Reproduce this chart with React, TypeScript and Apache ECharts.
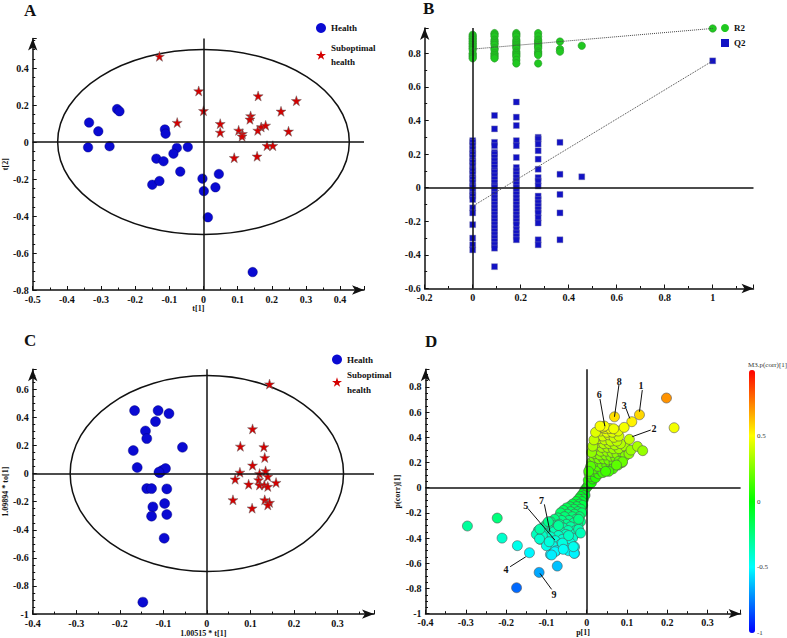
import React, { useEffect, useRef } from 'react';
import * as echarts from 'echarts';

const FONT = '"Liberation Serif", "DejaVu Serif", serif';
const STAR = 'path://M50,2 L61.8,37.6 L99,37.6 L69,59.6 L80.4,95 L50,73.2 L19.6,95 L31,59.6 L1,37.6 L38.2,37.6 Z';

// ---------- Panel A (PCA scores) ----------
const aHealth = [
  [-0.335, 0.105], [-0.308, 0.058], [-0.338, -0.029], [-0.275, -0.023], [-0.253, 0.178], [-0.246, 0.166],
  [-0.113, 0.068], [-0.111, 0.045], [-0.138, -0.09], [-0.117, -0.104], [-0.078, -0.032], [-0.088, -0.063],
  [-0.046, -0.027], [-0.068, -0.16], [-0.15, -0.231], [-0.129, -0.211], [-0.003, -0.198], [0.001, -0.265],
  [0.035, -0.245], [0.045, -0.173], [0.013, -0.407], [0.144, -0.703],
];
const aSub = [
  [-0.129, 0.463], [-0.014, 0.276], [0.0, 0.169], [-0.077, 0.105], [0.049, 0.099], [0.049, 0.052],
  [0.138, 0.141], [0.136, 0.123], [0.16, 0.249], [0.227, 0.166], [0.272, 0.223], [0.249, 0.058],
  [0.103, 0.063], [0.114, 0.045], [0.113, 0.031], [0.169, 0.081], [0.182, 0.09], [0.159, 0.063],
  [0.186, -0.02], [0.203, -0.02], [0.09, -0.085], [0.157, -0.077],
];
const aEllipse = [0.427, 0.5];

// ---------- Panel B (permutation test) ----------
const permX = [0, 0.0909, 0.1818, 0.2727, 0.3636, 0.4545, 1];
const r2Cols = [
  [0.91, 0.9, 0.89, 0.88, 0.87, 0.86, 0.85, 0.84, 0.83, 0.82, 0.8, 0.79, 0.78, 0.77],
  [0.92, 0.91, 0.9, 0.88, 0.87, 0.86, 0.85, 0.83, 0.82, 0.8, 0.79, 0.78, 0.77],
  [0.92, 0.91, 0.9, 0.88, 0.87, 0.86, 0.85, 0.84, 0.83, 0.81, 0.8, 0.79, 0.78, 0.76, 0.74],
  [0.92, 0.9, 0.88, 0.87, 0.86, 0.85, 0.84, 0.83, 0.81, 0.8, 0.79, 0.74],
  [0.87, 0.825, 0.81],
  [0.845],
  [0.948],
];
const q2Cols = [
  [0.28, 0.27, 0.25, 0.23, 0.21, 0.2, 0.18, 0.16, 0.15, 0.13, 0.11, 0.1, 0.08, 0.06, 0.05, 0.03, 0.01, 0, -0.02, -0.04, -0.05, -0.07, -0.12, -0.15, -0.22, -0.3, -0.34, -0.37],
  [0.43, 0.35, 0.27, 0.25, 0.21, 0.2, 0.18, 0.16, 0.14, 0.12, 0.1, 0.09, 0.07, 0.05, 0.03, 0.01, 0, -0.02, -0.04, -0.06, -0.08, -0.1, -0.12, -0.14, -0.16, -0.18, -0.2, -0.22, -0.24, -0.26, -0.28, -0.3, -0.32, -0.34, -0.36, -0.47],
  [0.51, 0.42, 0.37, 0.28, 0.25, 0.18, 0.12, 0.1, 0.08, 0.06, 0.04, 0.02, 0, -0.02, -0.04, -0.06, -0.08, -0.1, -0.12, -0.14, -0.16, -0.18, -0.2, -0.22, -0.25, -0.27, -0.29, -0.31],
  [0.3, 0.29, 0.26, 0.22, 0.17, 0.11, 0.06, 0.04, 0.01, -0.05, -0.07, -0.09, -0.11, -0.13, -0.15, -0.18, -0.21, -0.31, -0.34],
  [0.27, 0.08, -0.04, -0.15, -0.31],
  [0.065],
  [0.755],
];
const r2Line = [[0, 0.825], [1, 0.948]];
const q2Line = [[0, -0.11], [1, 0.755]];

// ---------- Panel C (OPLS-DA scores) ----------
const cHealth = [
  [-0.166, 0.448], [-0.112, 0.448], [-0.087, 0.427], [-0.118, 0.37], [-0.141, 0.303], [-0.138, 0.249],
  [-0.169, 0.164], [-0.056, 0.187], [-0.16, 0.043], [-0.108, 0.007], [-0.103, 0.021], [-0.095, 0.036],
  [-0.11, 0.01], [-0.138, -0.107], [-0.127, -0.107], [-0.092, -0.109], [-0.124, -0.237], [-0.097, -0.213],
  [-0.127, -0.303], [-0.092, -0.291], [-0.098, -0.46], [-0.147, -0.915],
];
const cSub = [
  [0.144, 0.637], [0.105, 0.318], [0.077, 0.194], [0.131, 0.19], [0.133, 0.114], [0.105, 0.059],
  [0.076, 0.009], [0.065, -0.04], [0.121, 0.0], [0.135, 0.019], [0.14, -0.021], [0.096, -0.076],
  [0.119, -0.045], [0.121, -0.081], [0.132, -0.081], [0.14, -0.092], [0.159, -0.064], [0.06, -0.187],
  [0.133, -0.187], [0.144, -0.206], [0.14, -0.223], [0.104, -0.246],
];
const cEllipse = [0.314, 0.697];

// ---------- Panel D (S-plot) ----------
const dOutliers = [
  [0.198, 0.712], [0.217, 0.476], [0.131, 0.579], [0.112, 0.524], [0.093, 0.479], [0.069, 0.563],
  [0.044, 0.489], [0.033, 0.489], [0.067, 0.468], [0.106, 0.384], [0.11, 0.299], [0.126, 0.328],
  [0.139, 0.294], [0.089, 0.206], [0.074, 0.18], [0.047, 0.13],
  [-0.296, -0.304], [-0.222, -0.241], [-0.21, -0.4], [-0.172, -0.46], [-0.142, -0.516], [-0.174, -0.794],
  [-0.118, -0.672], [-0.073, -0.622], [-0.117, -0.407], [-0.116, -0.328], [-0.095, -0.27], [-0.093, -0.429],
  [-0.079, -0.508], [-0.087, -0.534], [-0.058, -0.489], [-0.031, -0.521], [-0.033, -0.468],
];
const dUpper = [
  [0.002, 0.01], [0.005, 0.03], [0.008, 0.05], [0.004, 0.06], [0.012, 0.04], [0.015, 0.07], [0.01, 0.09],
  [0.018, 0.1], [0.006, 0.11], [0.022, 0.08], [0.025, 0.12], [0.013, 0.13], [0.03, 0.11], [0.008, 0.15],
  [0.02, 0.15], [0.035, 0.14], [0.04, 0.12], [0.016, 0.18], [0.028, 0.17], [0.045, 0.16], [0.012, 0.2],
  [0.024, 0.21], [0.038, 0.19], [0.05, 0.18], [0.06, 0.19], [0.018, 0.24], [0.03, 0.23], [0.042, 0.23],
  [0.055, 0.22], [0.068, 0.2], [0.078, 0.18], [0.088, 0.2], [0.02, 0.27], [0.033, 0.26], [0.047, 0.26],
  [0.06, 0.25], [0.072, 0.24], [0.085, 0.23], [0.022, 0.3], [0.035, 0.29], [0.05, 0.29], [0.063, 0.28],
  [0.075, 0.27], [0.09, 0.27], [0.1, 0.29], [0.025, 0.33], [0.038, 0.32], [0.052, 0.32], [0.066, 0.31],
  [0.08, 0.31], [0.095, 0.33], [0.028, 0.36], [0.042, 0.35], [0.056, 0.35], [0.07, 0.34], [0.084, 0.35],
  [0.03, 0.39], [0.045, 0.38], [0.06, 0.37], [0.075, 0.37], [0.028, 0.42], [0.04, 0.41], [0.055, 0.42],
  [0.068, 0.4], [0.08, 0.41], [0.035, 0.45], [0.05, 0.44], [0.064, 0.44], [0.078, 0.45], [0.045, 0.47],
  [0.058, 0.47], [0.012, 0.28], [0.015, 0.33], [0.018, 0.38], [0.022, 0.44], [0.04, 0.48], [0.095, 0.25],
  [0.105, 0.27], [0.08, 0.21], [0.065, 0.15], [0.055, 0.13], [0.01, 0.17], [0.005, 0.13],
];
const dLower = [
  [-0.003, -0.01], [-0.006, -0.03], [-0.01, -0.05], [-0.004, -0.06], [-0.015, -0.07], [-0.008, -0.09],
  [-0.02, -0.09], [-0.012, -0.11], [-0.026, -0.11], [-0.018, -0.13], [-0.035, -0.13], [-0.01, -0.14],
  [-0.025, -0.15], [-0.042, -0.15], [-0.015, -0.17], [-0.032, -0.17], [-0.05, -0.16], [-0.022, -0.19],
  [-0.04, -0.19], [-0.058, -0.18], [-0.012, -0.2], [-0.03, -0.21], [-0.048, -0.21], [-0.065, -0.2],
  [-0.018, -0.23], [-0.036, -0.23], [-0.055, -0.23], [-0.072, -0.24], [-0.026, -0.25], [-0.044, -0.26],
  [-0.062, -0.26], [-0.08, -0.25], [-0.09, -0.27], [-0.015, -0.27], [-0.032, -0.28], [-0.05, -0.29],
  [-0.068, -0.29], [-0.085, -0.3], [-0.1, -0.29], [-0.022, -0.3], [-0.04, -0.31], [-0.058, -0.32],
  [-0.075, -0.32], [-0.095, -0.33], [-0.11, -0.32], [-0.028, -0.34], [-0.046, -0.34], [-0.065, -0.35],
  [-0.082, -0.35], [-0.105, -0.36], [-0.12, -0.34], [-0.03, -0.37], [-0.052, -0.37], [-0.07, -0.38],
  [-0.09, -0.39], [-0.035, -0.4], [-0.06, -0.41], [-0.078, -0.42], [-0.1, -0.43], [-0.115, -0.41],
  [-0.04, -0.44], [-0.065, -0.45], [-0.085, -0.46], [-0.03, -0.47], [-0.05, -0.48], [-0.075, -0.5],
  [-0.09, -0.53], [-0.03, -0.52], [-0.125, -0.37], [-0.11, -0.38], [-0.045, -0.38], [-0.02, -0.33],
  [-0.015, -0.36], [-0.06, -0.44], [-0.045, -0.5], [-0.07, -0.3], [-0.02, -0.25], [-0.1, -0.46],
];
const annLabels = ['1', '2', '3', '4', '5', '6', '7', '8', '9'];
const annText = [[0.135, 0.81], [0.167, 0.471], [0.093, 0.656], [-0.2, -0.648], [-0.151, -0.138], [0.031, 0.743], [-0.112, -0.098], [0.081, 0.847], [-0.081, -0.844]];
const annFrom = [[0.138, 0.775], [0.159, 0.458], [0.0975, 0.63], [-0.19, -0.627], [-0.146, -0.164], [0.033, 0.704], [-0.105, -0.132], [0.08, 0.815], [-0.087, -0.807]];
const annTo = [[0.131, 0.603], [0.113, 0.405], [0.107, 0.55], [-0.151, -0.548], [-0.079, -0.415], [0.045, 0.489], [-0.091, -0.349], [0.069, 0.563], [-0.116, -0.68]];
const colorbarTicks = [-1, -0.5, 0, 0.5];

function fmtFor(interval: number) {
  return (v: number) => {
    const k = v / interval;
    if (Math.abs(k - Math.round(k)) > 1e-6) return '';
    const r = Math.round(v * 100) / 100;
    return String(r === 0 ? 0 : r);
  };
}

function mkAxis(gridIndex: number, min: number, max: number, interval: number, minorSplit: number, name: string, nameGap: number) {
  return {
    type: 'value', gridIndex, min, max, interval,
    name, nameLocation: 'middle', nameGap,
    nameTextStyle: { fontFamily: FONT, fontSize: 8, fontWeight: 'bold', color: '#111' },
    axisLine: { show: true, onZero: false, symbol: ['none', 'arrow'], symbolSize: [7, 12], lineStyle: { color: '#111', width: 1.5 } },
    axisTick: { show: true, inside: true, length: 4, lineStyle: { color: '#111', width: 1 } },
    minorTick: { show: true, splitNumber: minorSplit, length: 2.5, lineStyle: { color: '#111', width: 1 } },
    splitLine: { show: false },
    minorSplitLine: { show: false },
    axisLabel: { fontFamily: FONT, fontSize: 10, fontWeight: 'bold', color: '#111', margin: 4, formatter: fmtFor(interval) },
  };
}

const cross = {
  silent: true, symbol: ['none', 'none'], label: { show: false },
  lineStyle: { color: '#111', width: 1.5, type: 'solid' },
  data: [{ xAxis: 0 }, { yAxis: 0 }],
};

function ellipseSeries(idx: number, ab: number[]) {
  return {
    type: 'custom', xAxisIndex: idx, yAxisIndex: idx, silent: true, z: 1,
    data: [[0, 0, ab[0], ab[1]]],
    encode: { x: 0, y: 1 },
    renderItem: (params: any, api: any) => {
      const c = api.coord([api.value(0), api.value(1)]);
      const ex = api.coord([api.value(2), api.value(1)]);
      const ey = api.coord([api.value(0), api.value(3)]);
      return {
        type: 'ellipse',
        shape: { cx: c[0], cy: c[1], rx: Math.abs(ex[0] - c[0]), ry: Math.abs(c[1] - ey[1]) },
        style: { fill: 'none', stroke: '#111', lineWidth: 1.5 },
      };
    },
    markLine: cross,
  };
}

const legendText = { fontFamily: FONT, fontSize: 9, fontWeight: 'bold', color: '#111', lineHeight: 14 };
const legendFmt = (n: string) => (n === 'Suboptimal health' ? 'Suboptimal\nhealth' : n);

export default function App() {
  const ref = useRef<HTMLDivElement>(null);
  useEffect(() => {
    if (!ref.current) return;
    const chart = echarts.init(ref.current, null, { renderer: 'svg' });

    const r2Pts: number[][] = [];
    r2Cols.forEach((col, i) => col.forEach((v) => r2Pts.push([permX[i], v])));
    const q2Pts: number[][] = [];
    q2Cols.forEach((col, i) => col.forEach((v) => q2Pts.push([permX[i], v])));
    const dAll = [...dLower, ...dUpper, ...dOutliers];
    const annData = annText.map((t, i) => [t[0], t[1], annFrom[i][0], annFrom[i][1], annTo[i][0], annTo[i][1]]);

    const blue = { color: '#0a0ad2', borderColor: '#000070', borderWidth: 0.4, opacity: 1 };
    const red = { color: '#d40000', borderColor: '#666', borderWidth: 0.5, opacity: 1 };
    const legendItem = { borderWidth: 0 };

    const option: any = {
      animation: false,
      backgroundColor: '#fff',
      textStyle: { fontFamily: FONT },
      title: [
        { text: 'A', left: 24, top: 2, padding: 0, textStyle: { fontFamily: FONT, fontSize: 17, fontWeight: 'bold', color: '#111' } },
        { text: 'B', left: 423, top: 0, padding: 0, textStyle: { fontFamily: FONT, fontSize: 17, fontWeight: 'bold', color: '#111' } },
        { text: 'C', left: 24, top: 332, padding: 0, textStyle: { fontFamily: FONT, fontSize: 17, fontWeight: 'bold', color: '#111' } },
        { text: 'D', left: 425, top: 333, padding: 0, textStyle: { fontFamily: FONT, fontSize: 17, fontWeight: 'bold', color: '#111' } },
        { text: 'M3.p(corr)[1]', left: 748, top: 361, padding: 0, textStyle: { fontFamily: FONT, fontSize: 7, fontWeight: 'normal', color: '#333' } },
      ],
      legend: [
        {
          left: 316, top: 21, orient: 'vertical', padding: 0, itemGap: 6, itemWidth: 10, itemHeight: 10, selectedMode: false,
          data: [{ name: 'Health', icon: 'circle' }, { name: 'Suboptimal health', icon: STAR }],
          formatter: legendFmt, textStyle: legendText, itemStyle: legendItem,
        },
        {
          left: 721, top: 21, orient: 'vertical', padding: 0, itemGap: 1, itemWidth: 8, itemHeight: 8, selectedMode: false,
          data: [{ name: 'R2', icon: 'circle' }, { name: 'Q2', icon: 'rect' }],
          textStyle: legendText, itemStyle: legendItem,
        },
        {
          left: 332, top: 352, orient: 'vertical', padding: 0, itemGap: 0, itemWidth: 10, itemHeight: 10, selectedMode: false,
          data: [{ name: 'Health', icon: 'circle' }, { name: 'Suboptimal health', icon: STAR }],
          formatter: legendFmt, textStyle: { ...legendText, lineHeight: 15 }, itemStyle: legendItem,
        },
      ],
      grid: [
        { left: 31, top: 38.4, width: 333, height: 251.6 },
        { left: 424.7, top: 28.1, width: 328.8, height: 260.4 },
        { left: 30, top: 369.3, width: 344, height: 245.1 },
        { left: 425.5, top: 369.3, width: 315.1, height: 244.4 },
        { left: 749, top: 370, width: 6, height: 263 },
      ],
      xAxis: [
        mkAxis(0, -0.5, 0.47, 0.1, 2, 't[1]', 14),
        mkAxis(1, -0.2, 1.17, 0.2, 2, '', 14),
        mkAxis(2, -0.4, 0.384, 0.1, 2, '1.00515 * t[1]', 14),
        mkAxis(3, -0.4, 0.382, 0.1, 2, 'p[1]', 15),
        { type: 'value', gridIndex: 4, show: false, min: 0, max: 1 },
      ],
      yAxis: [
        mkAxis(0, -0.8, 0.56, 0.2, 4, 't[2]', 22),
        mkAxis(1, -0.6, 0.95, 0.2, 2, '', 22),
        mkAxis(2, -1, 0.742, 0.2, 4, '1.09894 * to[1]', 21),
        mkAxis(3, -1, 0.94, 0.2, 4, 'p(corr)[1]', 21),
        {
          type: 'value', gridIndex: 4, position: 'right', min: -1, max: 1, interval: 0.5,
          axisLine: { show: false }, axisTick: { show: false }, splitLine: { show: false },
          axisLabel: {
            fontFamily: FONT, fontSize: 7, color: '#333', margin: 2,
            formatter: (v: number) => (colorbarTicks.some((t) => Math.abs(t - v) < 1e-6) ? String(v) : ''),
          },
        },
      ],
      visualMap: {
        type: 'continuous', min: -1, max: 1, dimension: 1, seriesIndex: 10,
        orient: 'vertical', left: 749, top: 370, itemWidth: 6, itemHeight: 263, padding: 0,
        calculable: false, text: null, showLabel: false, hoverLink: false,
        inRange: { color: ['#0000ff', '#00ffff', '#00ff00', '#ffff00', '#ff0000'] },
      },
      series: [
        // A
        { name: 'Health', type: 'scatter', xAxisIndex: 0, yAxisIndex: 0, data: aHealth, symbol: 'circle', symbolSize: 9.5, itemStyle: blue, z: 3 },
        { name: 'Suboptimal health', type: 'scatter', xAxisIndex: 0, yAxisIndex: 0, data: aSub, symbol: STAR, symbolSize: 10, itemStyle: red, z: 3 },
        ellipseSeries(0, aEllipse),
        // B
        { name: 'R2', type: 'scatter', xAxisIndex: 1, yAxisIndex: 1, data: r2Pts, symbol: 'circle', symbolSize: 7.5, itemStyle: { color: '#20c820', borderColor: '#2a8a2a', borderWidth: 0.5, opacity: 1 }, z: 3 },
        { name: 'Q2', type: 'scatter', xAxisIndex: 1, yAxisIndex: 1, data: q2Pts, symbol: 'rect', symbolSize: 6, itemStyle: { color: '#1212c4', borderColor: '#8888aa', borderWidth: 0.4, opacity: 1 }, z: 3 },
        { name: 'r2fit', type: 'line', xAxisIndex: 1, yAxisIndex: 1, data: r2Line, symbol: 'none', silent: true, lineStyle: { type: 'dotted', color: '#444', width: 1 }, z: 5 },
        { name: 'q2fit', type: 'line', xAxisIndex: 1, yAxisIndex: 1, data: q2Line, symbol: 'none', silent: true, lineStyle: { type: 'dotted', color: '#444', width: 1 }, z: 5, markLine: cross },
        // C
        { name: 'Health', type: 'scatter', xAxisIndex: 2, yAxisIndex: 2, data: cHealth, symbol: 'circle', symbolSize: 10, itemStyle: blue, z: 3 },
        { name: 'Suboptimal health', type: 'scatter', xAxisIndex: 2, yAxisIndex: 2, data: cSub, symbol: STAR, symbolSize: 10, itemStyle: red, z: 3 },
        ellipseSeries(2, cEllipse),
        // D
        { name: 'Splot', type: 'scatter', xAxisIndex: 3, yAxisIndex: 3, data: dAll, symbol: 'circle', symbolSize: 10, itemStyle: { borderColor: '#555', borderWidth: 0.6, opacity: 1 }, z: 3 },
        {
          name: 'ann', type: 'custom', xAxisIndex: 3, yAxisIndex: 3, data: annData, silent: true, z: 6,
          encode: { x: [0, 2, 4], y: [1, 3, 5] },
          renderItem: (params: any, api: any) => {
            const t = api.coord([api.value(0), api.value(1)]);
            const p1 = api.coord([api.value(2), api.value(3)]);
            const p2 = api.coord([api.value(4), api.value(5)]);
            return {
              type: 'group',
              children: [
                { type: 'line', shape: { x1: p1[0], y1: p1[1], x2: p2[0], y2: p2[1] }, style: { stroke: '#111', lineWidth: 1 } },
                { type: 'text', x: t[0], y: t[1], style: { text: annLabels[params.dataIndex], fill: '#111', font: 'bold 10px ' + FONT, align: 'center', verticalAlign: 'middle' } },
              ],
            };
          },
          markLine: cross,
        },
        // colorbar axis holder
        { name: 'cb', type: 'scatter', xAxisIndex: 4, yAxisIndex: 4, data: [], silent: true },
      ],
    };
    chart.setOption(option);
    return () => chart.dispose();
  }, []);
  return <div ref={ref} style={{ position: 'fixed', left: 0, top: 0, width: 787, height: 638, background: '#fff' }} />;
}
